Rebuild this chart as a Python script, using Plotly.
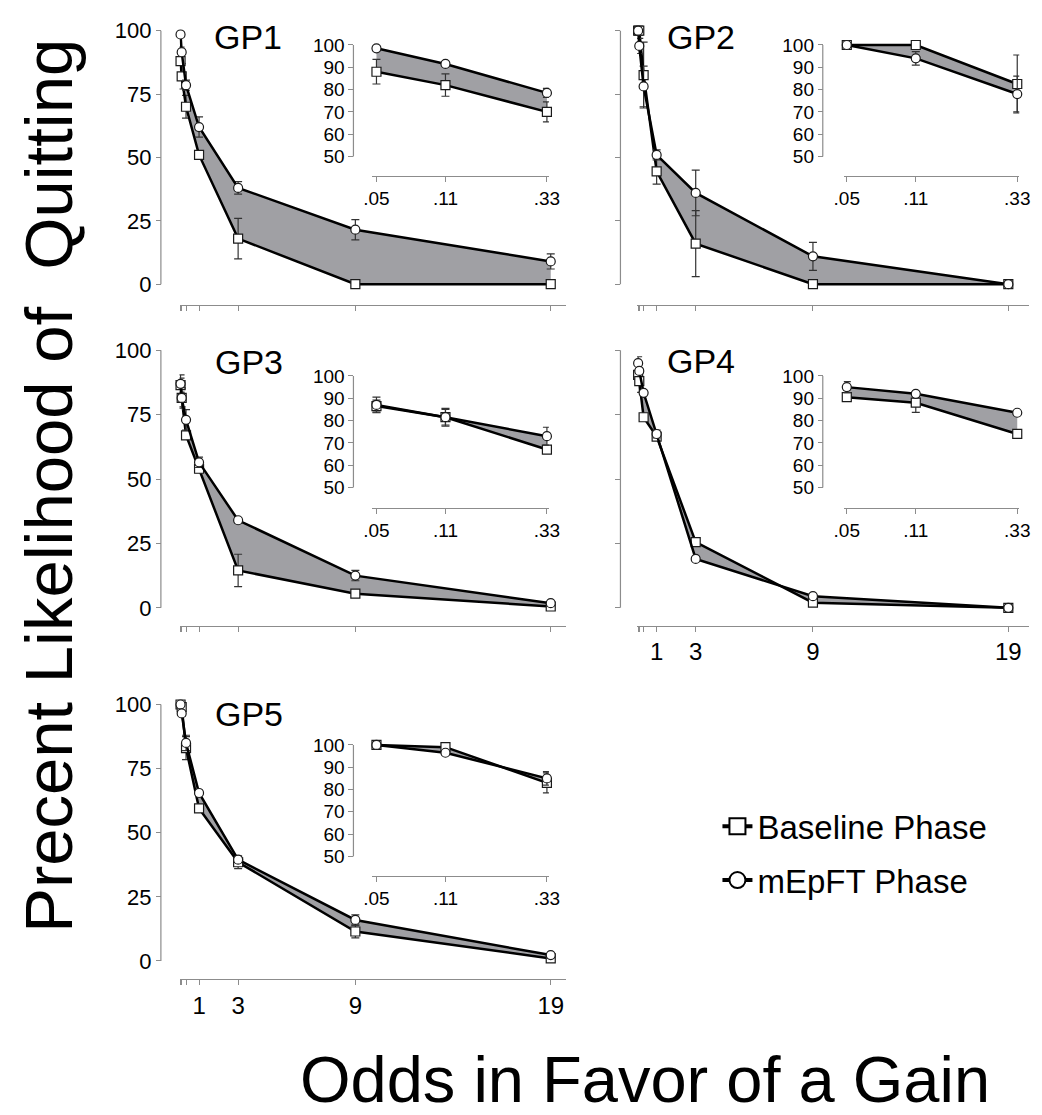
import math
import plotly.graph_objects as go

# Odds in favour of a gain (x) for every condition
odds = [1 / 19, 1 / 9, 1 / 3, 1, 3, 9, 19]
odds_labels = ["", "", "", "1", "3", "9", "19"]
inset_labels = [".05", ".11", ".33"]

panels = ["GP1", "GP2", "GP3", "GP4", "GP5"]

# Percent likelihood of quitting, Baseline phase
gp1_base = [88, 82, 70, 51, 18, 0, 0]
gp2_base = [100, 100, 82.5, 44.5, 16, 0, 0]
gp3_base = [86.5, 81.5, 67, 54, 14.5, 5.5, 0.5]
gp4_base = [90.5, 88, 74, 66.5, 25.5, 2, 0]
gp5_base = [100, 99, 83, 59.5, 38.5, 11.5, 1]

gp1_base_err = [5.5, 5, 4.5, 1.5, 8, 0, 0]
gp2_base_err = [0, 0, 13, 5, 13, 0, 0]
gp3_base_err = [2.7, 3.5, 1, 1.5, 6.3, 1.5, 0.5]
gp4_base_err = [1, 4.3, 1, 1.5, 1, 0.5, 0]
gp5_base_err = [0, 0.5, 4.5, 1, 2.5, 2.5, 1]

# Percent likelihood of quitting, mEpFT phase
gp1_mepft = [98.5, 91.5, 78.5, 62, 38, 21.5, 9]
gp2_mepft = [100, 94, 78, 51, 36, 11, 0]
gp3_mepft = [87, 81.5, 73, 56.5, 34, 12.5, 1.8]
gp4_mepft = [95, 92, 83.5, 67.5, 19, 4.5, 0]
gp5_mepft = [100, 96.5, 85, 65.5, 39.5, 16, 2.3]

gp1_mepft_err = [1, 1, 2, 4, 2.5, 4, 3]
gp2_mepft_err = [0, 3, 8, 2, 9, 5.5, 0]
gp3_mepft_err = [3.5, 4, 4, 2, 1, 2, 0.5]
gp4_mepft_err = [2.5, 1, 0.5, 1.5, 0.5, 0.5, 0]
gp5_mepft_err = [0, 1, 3, 0.5, 1, 2, 0.5]

base = [gp1_base, gp2_base, gp3_base, gp4_base, gp5_base]
base_err = [gp1_base_err, gp2_base_err, gp3_base_err, gp4_base_err, gp5_base_err]
mepft = [gp1_mepft, gp2_mepft, gp3_mepft, gp4_mepft, gp5_mepft]
mepft_err = [gp1_mepft_err, gp2_mepft_err, gp3_mepft_err, gp4_mepft_err, gp5_mepft_err]

W, H = 1042, 1115
FONT = "Liberation Sans, Arial, sans-serif"
AXIS_GREY = "#8c8c8c"
FILL_GREY = "#a0a0a4"


def fx(p):
    return p / W


def fy(p):
    return 1 - p / H


# Page geometry (pixels) of each main panel and its inset
col_left = dict(yline=154, xdom=(173, 567), xper=19.94,
                ins_yline=350.5, ins_xdom=(369, 550), ins_x05=374)
col_right = dict(yline=623, xdom=(640, 1040), xper=19.94,
                 ins_yline=829.5, ins_xdom=(851, 1030), ins_x05=854)
rows = [
    dict(y100=24, y0=281, xline=302, ins_y100=38.5, ins_y50=151.5, ins_xline=171.5),
    dict(y100=348, y0=609, xline=627, ins_y100=374, ins_y50=487, ins_xline=508),
    dict(y100=707, y0=967, xline=985, ins_y100=748, ins_y50=861, ins_xline=881),
]
layout_pos = [(0, col_left), (0, col_right), (1, col_left), (1, col_right), (2, col_left)]
label_pos = [(206, 30), (668, 30), (207, 360), (668, 359), (207, 717)]

fig = go.Figure()
layout = {}
shapes = []
annotations = []

PAD = 2.0  # extra data room so lines at the range ends are not clipped
LOG_PX_PER_DECADE = 217.0

tick_font_main = dict(family=FONT, size=22, color="black")
tick_font_x = dict(family=FONT, size=24, color="black")
tick_font_inset = dict(family=FONT, size=19, color="black")

for i, name in enumerate(panels):
    r, col = layout_pos[i]
    row = rows[r]
    mx, my = 2 * i + 1, 2 * i + 1      # main axes ids
    ix, iy = 2 * i + 2, 2 * i + 2      # inset axes ids
    mxn = "xaxis" if mx == 1 else f"xaxis{mx}"
    myn = "yaxis" if my == 1 else f"yaxis{my}"
    ixn, iyn = f"xaxis{ix}", f"yaxis{iy}"
    mxr = "x" if mx == 1 else f"x{mx}"
    myr = "y" if my == 1 else f"y{my}"
    ixr, iyr = f"x{ix}", f"y{iy}"

    bottom_row = (i >= 3)
    left_col = (col is col_left)

    # ---- main panel axes ----
    x0p, x1p = col["xdom"]
    xmax = (x1p - x0p) / col["xper"]
    ppu = (row["y0"] - row["y100"]) / 100.0
    layout[mxn] = dict(
        domain=[fx(x0p), fx(x1p)], range=[0, xmax], anchor="free",
        position=fy(row["xline"]), showline=True, linecolor=AXIS_GREY, linewidth=1.2,
        ticks="outside", ticklen=5, tickwidth=1.2, tickcolor=AXIS_GREY,
        tickvals=odds, ticktext=odds_labels, showticklabels=bottom_row,
        tickfont=tick_font_x, showgrid=False, zeroline=False, fixedrange=True,
    )
    layout[myn] = dict(
        domain=[fy(row["y0"] + PAD * ppu), fy(row["y100"] - PAD * ppu)],
        range=[-PAD, 100 + PAD], anchor="free", position=fx(col["yline"]),
        showline=False, ticks="outside", ticklen=5, tickwidth=1.2, tickcolor=AXIS_GREY,
        tickvals=[0, 25, 50, 75, 100], showticklabels=left_col,
        tickfont=tick_font_main, showgrid=False, zeroline=False, fixedrange=True,
    )
    shapes.append(dict(type="line", xref="paper", yref=myr,
                       x0=fx(col["yline"]), x1=fx(col["yline"]), y0=0, y1=100,
                       line=dict(color=AXIS_GREY, width=1.2), layer="below"))

    # ---- inset axes (log odds, 50-100 %) ----
    ix0, ix1 = col["ins_xdom"]
    lo = math.log10(odds[0]) - (col["ins_x05"] - ix0) / LOG_PX_PER_DECADE
    hi = lo + (ix1 - ix0) / LOG_PX_PER_DECADE
    ippu = (row["ins_y50"] - row["ins_y100"]) / 50.0
    layout[ixn] = dict(
        type="log", domain=[fx(ix0), fx(ix1)], range=[lo, hi], anchor="free",
        position=fy(row["ins_xline"]), showline=True, linecolor=AXIS_GREY, linewidth=1.2,
        ticks="outside", ticklen=5, tickwidth=1.2, tickcolor=AXIS_GREY,
        tickvals=odds[:3], ticktext=inset_labels, tickfont=tick_font_inset,
        showgrid=False, zeroline=False, fixedrange=True,
    )
    layout[iyn] = dict(
        domain=[fy(row["ins_y50"] + PAD * ippu), fy(row["ins_y100"] - PAD * ippu)],
        range=[50 - PAD, 100 + PAD], anchor="free", position=fx(col["ins_yline"]),
        showline=False, ticks="outside", ticklen=5, tickwidth=1.2, tickcolor=AXIS_GREY,
        tickvals=[50, 60, 70, 80, 90, 100], tickfont=tick_font_inset,
        showgrid=False, zeroline=False, fixedrange=True,
    )
    shapes.append(dict(type="line", xref="paper", yref=iyr,
                       x0=fx(col["ins_yline"]), x1=fx(col["ins_yline"]), y0=50, y1=100,
                       line=dict(color=AXIS_GREY, width=1.2), layer="below"))

    # ---- data: baseline then mEpFT, grey band between them ----
    for xr, yr, n in ((mxr, myr, 7), (ixr, iyr, 3)):
        fig.add_trace(go.Scatter(
            x=odds[:n], y=base[i][:n], xaxis=xr, yaxis=yr, mode="lines+markers",
            line=dict(color="black", width=2.5),
            marker=dict(symbol="square", size=9, color="white",
                        line=dict(color="#1a1a1a", width=1.2)),
            error_y=dict(type="data", array=base_err[i][:n], color="#333333",
                         thickness=1.2, width=4),
            cliponaxis=False, showlegend=False, hoverinfo="skip",
        ))
        fig.add_trace(go.Scatter(
            x=odds[:n], y=mepft[i][:n], xaxis=xr, yaxis=yr, mode="lines+markers",
            fill="tonexty", fillcolor=FILL_GREY,
            line=dict(color="black", width=2.5),
            marker=dict(symbol="circle", size=9, color="white",
                        line=dict(color="#1a1a1a", width=1.2)),
            error_y=dict(type="data", array=mepft_err[i][:n], color="#333333",
                         thickness=1.2, width=4),
            cliponaxis=False, showlegend=False, hoverinfo="skip",
        ))

    lx, ly = label_pos[i]
    annotations.append(dict(text=name, xref="paper", yref="paper", x=fx(lx), y=fy(ly),
                            xanchor="left", yanchor="middle", showarrow=False,
                            font=dict(family=FONT, size=34, color="black")))

# Legend entries
fig.add_trace(go.Scatter(
    x=[None], y=[None], mode="lines+markers", name="Baseline Phase",
    line=dict(color="black", width=4), legendgroup="a",
    marker=dict(symbol="square", size=16, color="white", line=dict(color="black", width=2)),
))
fig.add_trace(go.Scatter(
    x=[None], y=[None], mode="lines+markers", name="mEpFT Phase",
    line=dict(color="black", width=4), legendgroup="b",
    marker=dict(symbol="circle", size=16, color="white", line=dict(color="black", width=2)),
))

# Shared axis titles
annotations.append(dict(text="Precent Likelihood of  Quitting", xref="paper", yref="paper",
                        x=fx(39), y=fy(485), textangle=-90, showarrow=False,
                        xanchor="center", yanchor="middle",
                        font=dict(family=FONT, size=67, color="black")))
annotations.append(dict(text="Odds in Favor of a Gain", xref="paper", yref="paper",
                        x=fx(648), y=fy(1087), showarrow=False,
                        xanchor="center", yanchor="middle",
                        font=dict(family=FONT, size=65, color="black")))

fig.update_layout(
    width=W, height=H, autosize=False,
    margin=dict(l=0, r=0, t=0, b=0, pad=0),
    paper_bgcolor="white", plot_bgcolor="rgba(0,0,0,0)",
    showlegend=True,
    legend=dict(x=fx(722), y=fy(802), xanchor="left", yanchor="top",
                font=dict(family=FONT, size=33, color="black"),
                bgcolor="rgba(0,0,0,0)", itemwidth=30, tracegroupgap=8,
                traceorder="grouped", itemclick=False, itemdoubleclick=False),
    shapes=shapes, annotations=annotations,
    **layout,
)

fig.write_html("out.html")
